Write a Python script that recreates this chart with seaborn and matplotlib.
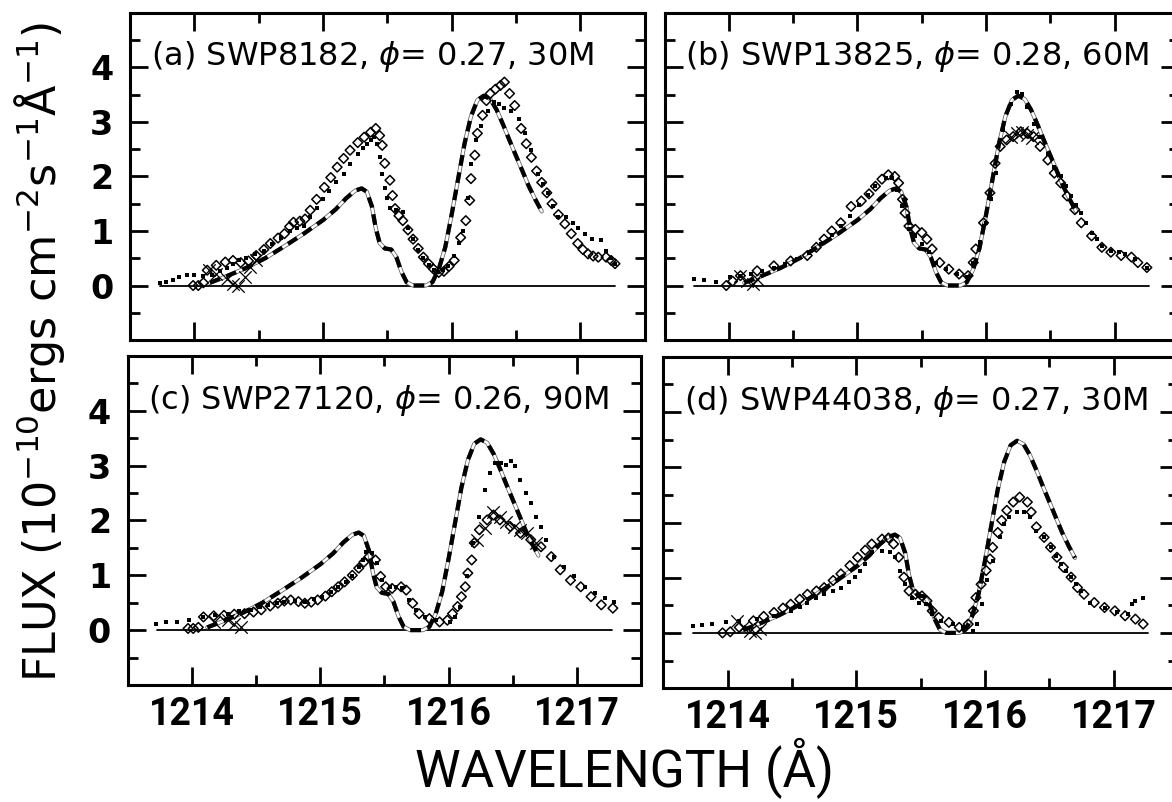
import pandas as pd
import matplotlib
matplotlib.use("Agg")
import matplotlib.pyplot as plt
import seaborn as sns

# ---------- Data ---------- #

# model profile: the dashed curve, same in all four panels
model = [(1214.12, 0.05), (1214.25, 0.17), (1214.40, 0.32), (1214.55, 0.50), (1214.70, 0.72),
         (1214.85, 0.95), (1215.00, 1.20), (1215.10, 1.40), (1215.18, 1.60), (1215.25, 1.74),
         (1215.30, 1.78), (1215.34, 1.72), (1215.38, 1.45), (1215.41, 1.05), (1215.44, 0.78),
         (1215.48, 0.68), (1215.53, 0.66), (1215.57, 0.52), (1215.61, 0.25), (1215.65, 0.06),
         (1215.70, 0.00), (1215.80, 0.00), (1215.85, 0.06), (1215.90, 0.30), (1215.95, 0.70),
         (1216.00, 1.30), (1216.05, 1.95), (1216.10, 2.60), (1216.15, 3.10), (1216.20, 3.40),
         (1216.25, 3.48), (1216.30, 3.42), (1216.35, 3.22), (1216.40, 2.95), (1216.45, 2.66),
         (1216.50, 2.38), (1216.55, 2.10), (1216.60, 1.82), (1216.65, 1.58), (1216.70, 1.36)]

zero_line = [(1213.73, 0.0), (1217.27, 0.0)]

# (a) SWP8182
a_diam = [(1213.99, 0.00), (1214.03, 0.00), (1214.07, 0.05), (1214.10, 0.28), (1214.17, 0.37),
          (1214.24, 0.43), (1214.30, 0.46), (1214.36, 0.42), (1214.42, 0.45), (1214.48, 0.55),
          (1214.54, 0.66), (1214.59, 0.77), (1214.65, 0.87), (1214.70, 0.95), (1214.74, 1.08),
          (1214.77, 1.16), (1214.82, 1.18), (1214.86, 1.22), (1214.90, 1.38), (1214.95, 1.58),
          (1215.01, 1.80), (1215.06, 1.98), (1215.11, 2.17), (1215.16, 2.33), (1215.21, 2.48),
          (1215.27, 2.62), (1215.32, 2.72), (1215.37, 2.81), (1215.41, 2.88), (1215.44, 2.75),
          (1215.46, 2.57), (1215.48, 2.24), (1215.52, 1.93), (1215.54, 1.65), (1215.56, 1.41),
          (1215.59, 1.28), (1215.62, 1.19), (1215.66, 1.02), (1215.70, 0.85), (1215.74, 0.68),
          (1215.78, 0.52), (1215.82, 0.40), (1215.86, 0.30), (1215.90, 0.24), (1215.94, 0.26),
          (1215.98, 0.35), (1216.02, 0.46), (1216.07, 0.88), (1216.11, 1.19), (1216.14, 1.56),
          (1216.15, 1.96), (1216.18, 2.39), (1216.20, 2.79), (1216.24, 3.12), (1216.27, 3.39),
          (1216.30, 3.52), (1216.34, 3.60), (1216.38, 3.67), (1216.41, 3.73), (1216.45, 3.52),
          (1216.49, 3.30), (1216.54, 2.88), (1216.58, 2.60), (1216.62, 2.35), (1216.66, 2.10),
          (1216.70, 1.89), (1216.74, 1.70), (1216.78, 1.50), (1216.83, 1.30), (1216.88, 1.13),
          (1216.93, 0.95), (1216.98, 0.77), (1217.02, 0.66), (1217.06, 0.58), (1217.10, 0.54),
          (1217.14, 0.52), (1217.20, 0.52), (1217.24, 0.46), (1217.27, 0.40)]
a_fill = [(1213.73, 0.05), (1213.78, 0.06), (1213.83, 0.10), (1213.88, 0.16), (1213.94, 0.20),
          (1214.00, 0.19), (1214.07, 0.17), (1214.14, 0.20), (1214.20, 0.27), (1214.25, 0.33),
          (1214.30, 0.40), (1214.35, 0.46), (1214.40, 0.50), (1214.47, 0.57), (1214.54, 0.64),
          (1214.60, 0.76), (1214.67, 0.88), (1214.74, 1.00), (1214.80, 1.06), (1214.85, 1.10),
          (1214.90, 1.26), (1214.95, 1.43), (1215.00, 1.58), (1215.05, 1.74), (1215.10, 1.90),
          (1215.16, 2.05), (1215.21, 2.22), (1215.27, 2.42), (1215.31, 2.52), (1215.34, 2.60),
          (1215.37, 2.67), (1215.40, 2.72), (1215.42, 2.60), (1215.44, 2.35), (1215.46, 2.05),
          (1215.48, 1.78), (1215.50, 1.60), (1215.52, 1.43), (1215.57, 1.38), (1215.62, 1.34),
          (1215.66, 1.06), (1215.70, 0.85), (1215.74, 0.66), (1215.78, 0.50), (1215.82, 0.37),
          (1215.86, 0.28), (1215.89, 0.24), (1215.93, 0.28), (1215.97, 0.36), (1216.02, 0.55),
          (1216.06, 0.78), (1216.09, 1.00), (1216.13, 1.60), (1216.15, 2.23), (1216.19, 2.66),
          (1216.23, 2.93), (1216.28, 3.20), (1216.33, 3.36), (1216.37, 3.32), (1216.41, 3.26),
          (1216.46, 3.20), (1216.52, 3.06), (1216.57, 2.79), (1216.62, 2.48), (1216.67, 2.05),
          (1216.71, 1.86), (1216.75, 1.69), (1216.79, 1.45), (1216.83, 1.25), (1216.89, 1.25),
          (1216.94, 1.15), (1216.98, 1.06), (1217.04, 0.95), (1217.09, 0.86), (1217.16, 0.83),
          (1217.20, 0.64), (1217.24, 0.50), (1217.27, 0.40)]
a_cross = [(1214.11, 0.28), (1214.17, 0.21), (1214.25, 0.12), (1214.30, 0.03), (1214.34, 0.00),
           (1214.39, 0.15), (1214.43, 0.34), (1214.48, 0.46)]

# (b) SWP13825
b_diam = [(1213.98, 0.00), (1214.03, 0.08), (1214.09, 0.18), (1214.22, 0.27), (1214.35, 0.36),
          (1214.48, 0.45), (1214.61, 0.55), (1214.68, 0.70), (1214.74, 0.85), (1214.80, 1.00),
          (1214.87, 1.15), (1214.95, 1.45), (1215.03, 1.55), (1215.09, 1.68), (1215.14, 1.82),
          (1215.19, 1.95), (1215.24, 2.03), (1215.29, 2.00), (1215.32, 1.88), (1215.35, 1.58),
          (1215.37, 1.33), (1215.40, 1.09), (1215.45, 1.03), (1215.50, 0.97), (1215.54, 0.85),
          (1215.58, 0.67), (1215.64, 0.42), (1215.71, 0.30), (1215.79, 0.21), (1215.86, 0.18),
          (1215.90, 0.42), (1215.92, 0.67), (1215.98, 1.15), (1216.03, 1.70), (1216.07, 2.24),
          (1216.11, 2.55), (1216.16, 2.67), (1216.21, 2.73), (1216.27, 2.82), (1216.32, 2.79),
          (1216.37, 2.73), (1216.42, 2.55), (1216.48, 2.30), (1216.53, 2.06), (1216.58, 1.88),
          (1216.63, 1.64), (1216.69, 1.39), (1216.74, 1.15), (1216.82, 0.91), (1216.90, 0.70),
          (1216.97, 0.61), (1217.05, 0.55), (1217.13, 0.52), (1217.18, 0.42), (1217.25, 0.33)]
b_fill = [(1213.73, 0.12), (1213.81, 0.10), (1213.90, 0.06), (1214.01, 0.15), (1214.09, 0.18),
          (1214.17, 0.21), (1214.26, 0.27), (1214.35, 0.33), (1214.44, 0.40), (1214.53, 0.48),
          (1214.62, 0.60), (1214.72, 0.76), (1214.80, 0.92), (1214.87, 1.09), (1214.94, 1.28),
          (1215.01, 1.48), (1215.08, 1.66), (1215.14, 1.82), (1215.22, 1.97), (1215.27, 1.97),
          (1215.31, 1.76), (1215.35, 1.45), (1215.40, 1.03), (1215.45, 0.91), (1215.50, 0.76),
          (1215.56, 0.61), (1215.61, 0.42), (1215.69, 0.30), (1215.77, 0.21), (1215.85, 0.15),
          (1215.90, 0.42), (1215.95, 0.79), (1216.00, 1.15), (1216.04, 1.58), (1216.08, 2.06),
          (1216.13, 2.85), (1216.19, 3.33), (1216.24, 3.55), (1216.28, 3.52), (1216.32, 3.27),
          (1216.37, 2.97), (1216.42, 2.73), (1216.48, 2.42), (1216.53, 2.18), (1216.58, 2.00),
          (1216.62, 1.82), (1216.66, 1.64), (1216.70, 1.48), (1216.74, 1.33), (1216.78, 1.15),
          (1216.82, 0.97), (1216.86, 0.85), (1216.90, 0.73), (1216.97, 0.64), (1217.03, 0.61),
          (1217.08, 0.58), (1217.16, 0.48), (1217.25, 0.33)]
b_cross = [(1214.09, 0.18), (1214.14, 0.09), (1214.19, 0.03), (1214.22, 0.12),
           (1216.19, 2.73), (1216.24, 2.79), (1216.28, 2.82), (1216.32, 2.76), (1216.36, 2.70)]

# (c) SWP27120
c_diam = [(1213.97, 0.03), (1214.01, 0.03), (1214.05, 0.05), (1214.09, 0.24), (1214.17, 0.26),
          (1214.25, 0.27), (1214.33, 0.29), (1214.41, 0.30), (1214.48, 0.33), (1214.54, 0.37),
          (1214.61, 0.44), (1214.67, 0.49), (1214.72, 0.53), (1214.77, 0.55), (1214.83, 0.52),
          (1214.88, 0.49), (1214.93, 0.51), (1214.98, 0.55), (1215.04, 0.62), (1215.09, 0.70),
          (1215.14, 0.79), (1215.19, 0.88), (1215.25, 1.00), (1215.30, 1.13), (1215.34, 1.24),
          (1215.38, 1.34), (1215.43, 1.28), (1215.47, 0.98), (1215.51, 0.79), (1215.56, 0.76),
          (1215.63, 0.79), (1215.67, 0.73), (1215.72, 0.49), (1215.77, 0.30), (1215.85, 0.21),
          (1215.93, 0.15), (1215.99, 0.18), (1216.03, 0.30), (1216.07, 0.43), (1216.10, 0.61),
          (1216.13, 0.79), (1216.15, 1.04), (1216.18, 1.28), (1216.20, 1.59), (1216.24, 1.83),
          (1216.30, 2.01), (1216.35, 2.10), (1216.40, 2.01), (1216.48, 1.89), (1216.56, 1.77),
          (1216.64, 1.65), (1216.72, 1.52), (1216.80, 1.34), (1216.87, 1.10), (1216.95, 0.91),
          (1217.03, 0.79), (1217.11, 0.61), (1217.19, 0.46), (1217.28, 0.40)]
c_fill = [(1213.72, 0.12), (1213.80, 0.14), (1213.88, 0.15), (1213.98, 0.19), (1214.09, 0.24),
          (1214.18, 0.27), (1214.28, 0.30), (1214.37, 0.35), (1214.46, 0.37), (1214.53, 0.42),
          (1214.59, 0.46), (1214.66, 0.50), (1214.72, 0.52), (1214.80, 0.53), (1214.88, 0.52),
          (1214.95, 0.56), (1215.01, 0.61), (1215.08, 0.70), (1215.14, 0.79), (1215.20, 0.88),
          (1215.25, 0.98), (1215.30, 1.15), (1215.33, 1.28), (1215.36, 1.43), (1215.40, 1.40),
          (1215.44, 1.22), (1215.48, 0.91), (1215.54, 0.79), (1215.59, 0.79), (1215.64, 0.76),
          (1215.69, 0.55), (1215.75, 0.37), (1215.82, 0.24), (1215.90, 0.18), (1216.01, 0.15),
          (1216.05, 0.24), (1216.09, 0.43), (1216.14, 0.98), (1216.19, 1.59), (1216.24, 2.07),
          (1216.28, 2.56), (1216.32, 2.87), (1216.36, 3.05), (1216.41, 3.05), (1216.45, 3.02),
          (1216.49, 3.08), (1216.52, 2.99), (1216.56, 2.74), (1216.60, 2.50), (1216.64, 2.32),
          (1216.68, 2.07), (1216.72, 1.89), (1216.76, 1.65), (1216.82, 1.34), (1216.90, 1.16),
          (1216.98, 0.98), (1217.06, 0.79), (1217.14, 0.67), (1217.22, 0.58), (1217.29, 0.52)]
c_cross = [(1214.17, 0.15), (1214.28, 0.18), (1214.33, 0.12), (1214.38, 0.06),
           (1216.22, 1.65), (1216.28, 1.86), (1216.35, 2.16), (1216.40, 2.07), (1216.45, 1.98),
           (1216.51, 1.89), (1216.56, 1.83), (1216.61, 1.77), (1216.68, 1.59)]

# (d) SWP44038
d_diam = [(1213.96, 0.00), (1214.02, 0.02), (1214.09, 0.10), (1214.20, 0.22), (1214.28, 0.30),
          (1214.36, 0.37), (1214.43, 0.45), (1214.49, 0.52), (1214.56, 0.61), (1214.62, 0.70),
          (1214.69, 0.76), (1214.75, 0.82), (1214.82, 0.95), (1214.88, 1.07), (1214.95, 1.22),
          (1215.01, 1.37), (1215.07, 1.50), (1215.12, 1.61), (1215.20, 1.70), (1215.25, 1.72),
          (1215.29, 1.61), (1215.33, 1.37), (1215.37, 1.01), (1215.41, 0.76), (1215.46, 0.70),
          (1215.51, 0.67), (1215.55, 0.58), (1215.59, 0.40), (1215.64, 0.28), (1215.72, 0.19),
          (1215.80, 0.10), (1215.87, 0.16), (1215.91, 0.40), (1215.93, 0.64), (1215.97, 0.88),
          (1216.01, 1.13), (1216.04, 1.34), (1216.06, 1.55), (1216.10, 1.82), (1216.13, 2.04),
          (1216.17, 2.22), (1216.22, 2.37), (1216.27, 2.46), (1216.33, 2.37), (1216.36, 2.19),
          (1216.40, 1.92), (1216.46, 1.73), (1216.51, 1.55), (1216.56, 1.37), (1216.61, 1.19),
          (1216.67, 1.01), (1216.72, 0.82), (1216.77, 0.70), (1216.85, 0.55), (1216.93, 0.46),
          (1217.01, 0.40), (1217.09, 0.31), (1217.17, 0.25), (1217.23, 0.16)]
d_fill = [(1213.73, 0.13), (1213.80, 0.14), (1213.88, 0.16), (1213.99, 0.19), (1214.09, 0.22),
          (1214.23, 0.25), (1214.36, 0.31), (1214.49, 0.40), (1214.56, 0.47), (1214.62, 0.55),
          (1214.69, 0.63), (1214.75, 0.70), (1214.82, 0.76), (1214.88, 0.82), (1214.94, 0.92),
          (1214.99, 1.01), (1215.03, 1.13), (1215.07, 1.25), (1215.12, 1.46), (1215.20, 1.49),
          (1215.26, 1.46), (1215.30, 1.37), (1215.34, 1.13), (1215.38, 0.88), (1215.43, 0.64),
          (1215.49, 0.55), (1215.54, 0.52), (1215.59, 0.34), (1215.66, 0.22), (1215.75, 0.16),
          (1215.83, 0.10), (1215.91, 0.04), (1215.94, 0.16), (1215.98, 0.52), (1216.02, 0.95),
          (1216.06, 1.31), (1216.12, 1.73), (1216.15, 1.98), (1216.19, 2.10), (1216.25, 2.19),
          (1216.30, 2.19), (1216.35, 2.10), (1216.40, 1.85), (1216.46, 1.73), (1216.51, 1.55),
          (1216.55, 1.40), (1216.59, 1.25), (1216.63, 1.13), (1216.67, 1.01), (1216.71, 0.88),
          (1216.75, 0.76), (1216.82, 0.55), (1216.93, 0.46), (1217.03, 0.37), (1217.11, 0.34),
          (1217.14, 0.52), (1217.17, 0.58), (1217.23, 0.64)]
d_cross = [(1214.07, 0.22), (1214.12, 0.10), (1214.17, 0.04), (1214.21, 0.00), (1214.25, 0.07)]

panel_labels = ["(a) SWP8182, $\\phi$= 0.27, 30M",
                "(b) SWP13825, $\\phi$= 0.28, 60M",
                "(c) SWP27120, $\\phi$= 0.26, 90M",
                "(d) SWP44038, $\\phi$= 0.27, 30M"]

x_ticks = [1214, 1215, 1216, 1217]
x_minor = [1214.5, 1215.5, 1216.5]
y_ticks = [0, 1, 2, 3, 4]
y_minor = [-0.5, 0.5, 1.5, 2.5, 3.5, 4.5]

# ---------- Plot ---------- #

sns.set_theme(style="ticks")
plt.rcParams['font.family'] = ['DejaVu Sans']
plt.rcParams['mathtext.fontset'] = 'dejavusans'
for key in ['text.color', 'axes.labelcolor', 'xtick.color', 'ytick.color', 'axes.edgecolor']:
    plt.rcParams[key] = 'black'
narrow = ['Roboto', 'DejaVu Sans']

fig = plt.figure(figsize=(11.72, 8.02), dpi=100)
fig.patch.set_facecolor('white')

rects = [[0.111, 0.576, 0.439, 0.408],
         [0.567, 0.576, 0.439, 0.408],
         [0.109, 0.146, 0.438, 0.410],
         [0.566, 0.142, 0.439, 0.413]]
series = [(a_diam, a_fill, a_cross), (b_diam, b_fill, b_cross),
          (c_diam, c_fill, c_cross), (d_diam, d_fill, d_cross)]


def to_df(points):
    return pd.DataFrame(points, columns=['wl', 'flux'])


model_df = to_df(model)
zero_df = to_df(zero_line)

for i, (rect, (diam, fill, cross), label) in enumerate(zip(rects, series, panel_labels)):
    ax = fig.add_axes(rect)
    ax.set_facecolor('white')

    sns.lineplot(data=zero_df, x='wl', y='flux', color='black', lw=1.3,
                 sort=False, estimator=None, ax=ax)
    # model: grey rim, white core, black dashes on top
    sns.lineplot(data=model_df, x='wl', y='flux', color='0.4', lw=3.0,
                 sort=False, estimator=None, ax=ax)
    sns.lineplot(data=model_df, x='wl', y='flux', color='white', lw=1.8,
                 sort=False, estimator=None, ax=ax)
    sns.lineplot(data=model_df, x='wl', y='flux', color='black', lw=3.0,
                 linestyle=(0, (2.6, 1.6)), sort=False, estimator=None, ax=ax)

    sns.scatterplot(data=to_df(diam), x='wl', y='flux', marker='D', s=24,
                    facecolor='none', edgecolor='black', linewidth=1.1, ax=ax, zorder=3)
    sns.scatterplot(data=to_df(fill), x='wl', y='flux', marker='s', s=11,
                    color='black', linewidth=0, ax=ax, zorder=3)
    sns.scatterplot(data=to_df(cross), x='wl', y='flux', marker='x', s=80,
                    color='black', linewidth=0.9, ax=ax, zorder=4)

    ax.set_xlim(1213.5, 1217.5)
    ax.set_ylim(-1, 5)
    ax.set_xlabel('')
    ax.set_ylabel('')

    ax.set_xticks(x_ticks)
    ax.set_xticks(x_minor, minor=True)
    ax.set_yticks(y_ticks)
    ax.set_yticks(y_minor, minor=True)
    ax.set_xticklabels([str(t) for t in x_ticks], fontfamily=narrow,
                       fontweight='bold', fontsize=27)
    ax.set_yticklabels([str(t) for t in y_ticks], fontweight='bold', fontsize=24)

    ax.tick_params(which='both', direction='in', top=True, right=True,
                   width=2.0, color='black')
    ax.tick_params(which='major', length=13)
    ax.tick_params(which='minor', length=7.5)
    ax.tick_params(axis='x', pad=8, labelbottom=(i >= 2))
    ax.tick_params(axis='y', pad=12, labelleft=(i % 2 == 0))

    for sp in ax.spines.values():
        sp.set_linewidth(2.2)
        sp.set_color('black')

    ax.text(0.04, 0.84, label, transform=ax.transAxes, fontsize=23,
            ha='left', va='baseline')

fig.text(0.533, 0.042, 'WAVELENGTH (Å)', fontfamily=narrow, fontsize=37,
         ha='center', va='center')
fig.text(0.034, 0.561, 'FLUX (10$^{-10}$ergs cm$^{-2}$s$^{-1}$Å$^{-1}$)',
         fontsize=32, rotation=90, ha='center', va='center')

fig.savefig('out.png', dpi=100, facecolor='white')
